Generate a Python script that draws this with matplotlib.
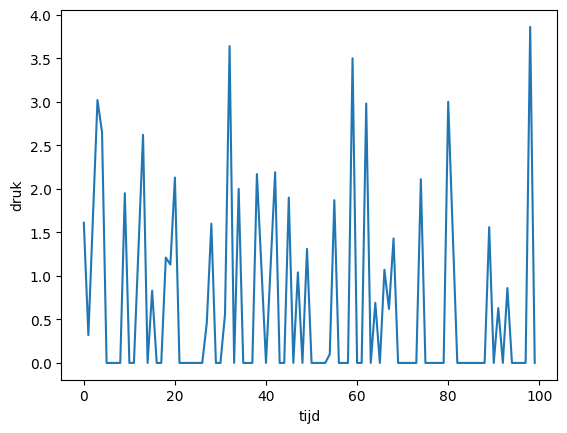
import numpy as np
import matplotlib
matplotlib.use("Agg")
import matplotlib.pyplot as plt


# pressure readings per time step
tijd = np.arange(100)
druk = [
    1.61, 0.32, 1.67, 3.02, 2.65, 0.0, 0.0, 0.0, 0.0, 1.95,
    0.0, 0.0, 1.31, 2.62, 0.0, 0.83, 0.0, 0.0, 1.21, 1.13,
    2.13, 0.0, 0.0, 0.0, 0.0, 0.0, 0.0, 0.46, 1.60, 0.0,
    0.0, 0.56, 3.64, 0.0, 2.0, 0.0, 0.0, 0.0, 2.17, 1.09,
    0.0, 1.10, 2.19, 0.0, 0.0, 1.90, 0.0, 1.04, 0.0, 1.31,
    0.0, 0.0, 0.0, 0.0, 0.10, 1.87, 0.0, 0.0, 0.0, 3.50,
    0.0, 0.0, 2.98, 0.0, 0.69, 0.0, 1.07, 0.62, 1.43, 0.0,
    0.0, 0.0, 0.0, 0.0, 2.11, 0.0, 0.0, 0.0, 0.0, 0.0,
    3.0, 1.50, 0.0, 0.0, 0.0, 0.0, 0.0, 0.0, 0.0, 1.56,
    0.0, 0.63, 0.0, 0.86, 0.0, 0.0, 0.0, 0.0, 3.86, 0.0,
]

plt.figure(figsize=(6.4, 4.8), dpi=100)
plt.plot(tijd, druk)
plt.xlabel("tijd")
plt.ylabel("druk")

plt.savefig("out.png", bbox_inches="tight")
